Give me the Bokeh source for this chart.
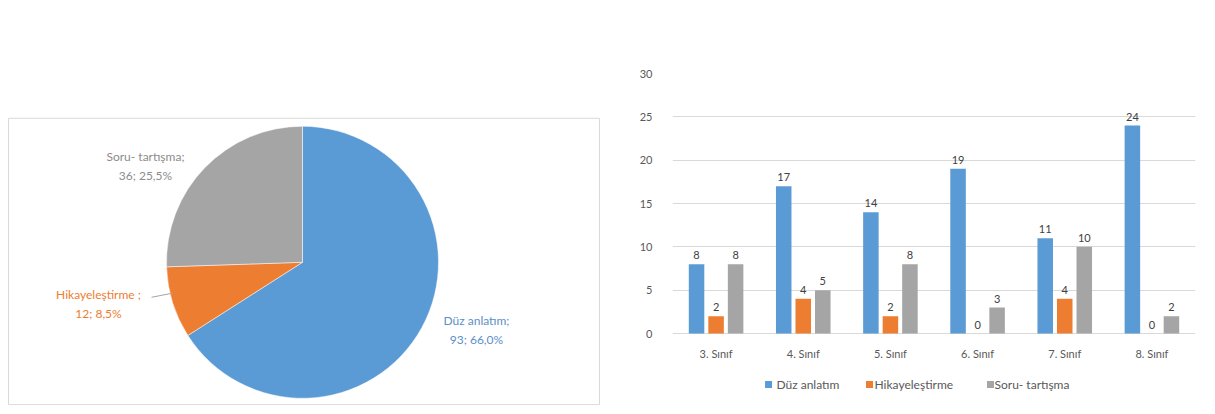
import numpy as np
from bokeh.plotting import figure
from bokeh.models import ColumnDataSource, Range1d, FactorRange, FixedTicker
from bokeh.layouts import row
from bokeh.transform import dodge
from bokeh.core.properties import value
from bokeh.embed import file_html
from bokeh.resources import INLINE

# ---------------- data ----------------
methods = ["Düz anlatım", "Hikayeleştirme", "Soru- tartışma"]
pie_labels = ["Düz anlatım;", "Hikayeleştirme ;", "Soru- tartışma;"]
totals = [93, 12, 36]
percents = ["66,0%", "8,5%", "25,5%"]

classes = ["3. Sınıf", "4. Sınıf", "5. Sınıf", "6. Sınıf", "7. Sınıf", "8. Sınıf"]
duz = [8, 17, 14, 19, 11, 24]
hikaye = [2, 4, 2, 0, 4, 0]
soru = [8, 5, 8, 3, 10, 2]
y_ticks = [0, 5, 10, 15, 20, 25, 30]

colors = ["#5B9BD5", "#ED7D31", "#A5A5A5"]
label_colors = ["#5B8FC8", "#ED7D31", "#8C8C8C"]
FONT = "Lato"
TXT = "#595959"
BOX = "#D9D9D9"

# ---------------- pie panel (pixel-unit canvas) ----------------
W1, H = 600, 408
p1 = figure(width=W1, height=H, x_range=Range1d(0, W1), y_range=Range1d(0, H),
            output_backend="svg", toolbar_location=None, min_border=0)
p1.xaxis.visible = False
p1.yaxis.visible = False
p1.xgrid.visible = False
p1.ygrid.visible = False
p1.outline_line_color = None
p1.background_fill_color = "white"
p1.border_fill_color = "white"

# panel frame
p1.quad(left=[8], right=[599], bottom=[1], top=[353], fill_color=None,
        line_color=BOX, line_width=1)

cx, cy, r = 302, 176, 136
vals = np.array(totals, dtype=float)
frac = vals / vals.sum()
ends = np.pi / 2 - 2 * np.pi * np.cumsum(frac)
starts = np.concatenate([[np.pi / 2], ends[:-1]])
src_pie = ColumnDataSource(dict(start=starts, end=ends, color=colors))
p1.wedge(x=cx, y=cy, radius=r, start_angle="start", end_angle="end",
         direction="clock", fill_color="color", line_color="white", line_width=0.5,
         source=src_pie)

lab_x = [476, 98, 145]
lab_y = [94, 126, 296]
line1 = list(pie_labels)
line2 = [f"{t}; {pc}" for t, pc in zip(totals, percents)]
p1.text(x=lab_x, y=lab_y, text=line1, text_color=label_colors,
        text_align="center", text_baseline="bottom", y_offset=-1, text_font=value(FONT),
        text_font_size="12px")
p1.text(x=lab_x, y=lab_y, text=line2, text_color=label_colors,
        text_align="center", text_baseline="top", y_offset=3, text_font=value(FONT),
        text_font_size="12px")
# leader line for the small slice
p1.line(x=[151, 172], y=[133, 138], line_color="#A5A5A5", line_width=1)

# ---------------- bar panel ----------------
W2 = 1215 - W1
TOP_B, BOT_B = 73, 3
px_per_unit = 260 / 30.0
y_min = -(H - TOP_B - BOT_B - 260) / px_per_unit
p2 = figure(width=W2, height=H, x_range=FactorRange(*classes), y_range=Range1d(y_min, 30),
            output_backend="svg", toolbar_location=None,
            min_border_left=72, min_border_right=20, min_border_top=TOP_B,
            min_border_bottom=BOT_B)
p2.outline_line_color = None
p2.background_fill_color = "white"
p2.border_fill_color = "white"
p2.xaxis.visible = False
p2.xgrid.visible = False
p2.ygrid.grid_line_color = BOX
p2.yaxis.ticker = FixedTicker(ticks=y_ticks)
p2.yaxis.axis_line_color = None
p2.yaxis.major_tick_line_color = None
p2.yaxis.minor_tick_line_color = None
p2.yaxis.major_label_standoff = 14
p2.yaxis.major_label_text_font = FONT
p2.yaxis.major_label_text_font_size = "11px"
p2.yaxis.major_label_text_color = TXT

data = dict(cls=classes, duz=duz, hikaye=hikaye, soru=soru)
for k in ("duz", "hikaye", "soru"):
    data[k + "_lbl"] = [str(v) for v in data[k]]
src = ColumnDataSource(data)
offsets = [-0.224, 0.0, 0.224]
keys = ["duz", "hikaye", "soru"]
for key, off, col in zip(keys, offsets, colors):
    xd = dodge("cls", off, range=p2.x_range)
    p2.vbar(x=xd, top=key, width=0.178, fill_color=col, line_color=None, source=src)
    p2.text(x=xd, y=key, text=key + "_lbl", source=src, text_align="center",
            text_baseline="bottom", y_offset=-5, text_font=value(FONT),
            text_font_size="11px", text_color="#404040")

# category labels below the baseline
p2.text(x="cls", y=-20 / px_per_unit, text="cls", source=src, text_align="center",
        text_baseline="middle", text_font=value(FONT), text_font_size="11px",
        text_color=TXT)

# legend row (marker + label per series)
leg_y = -51 / px_per_unit
marker_off = [-1.398, -0.240, 1.148]
label_off = [-1.307, -0.182, 1.194]
for name, col, mo, lo in zip(methods, colors, marker_off, label_off):
    lsrc = ColumnDataSource(dict(anchor=["5. Sınıf"], y=[leg_y], label=[name]))
    p2.scatter(x=dodge("anchor", mo, range=p2.x_range), y="y", marker="square", size=7,
               fill_color=col, line_color=None, source=lsrc)
    p2.text(x=dodge("anchor", lo, range=p2.x_range), y="y", text="label", source=lsrc,
            text_align="left", text_baseline="middle", text_font=value(FONT),
            text_font_size="12px", text_color=TXT)

layout = row(p1, p2)

open("out.html", "w").write(file_html(layout, INLINE))
